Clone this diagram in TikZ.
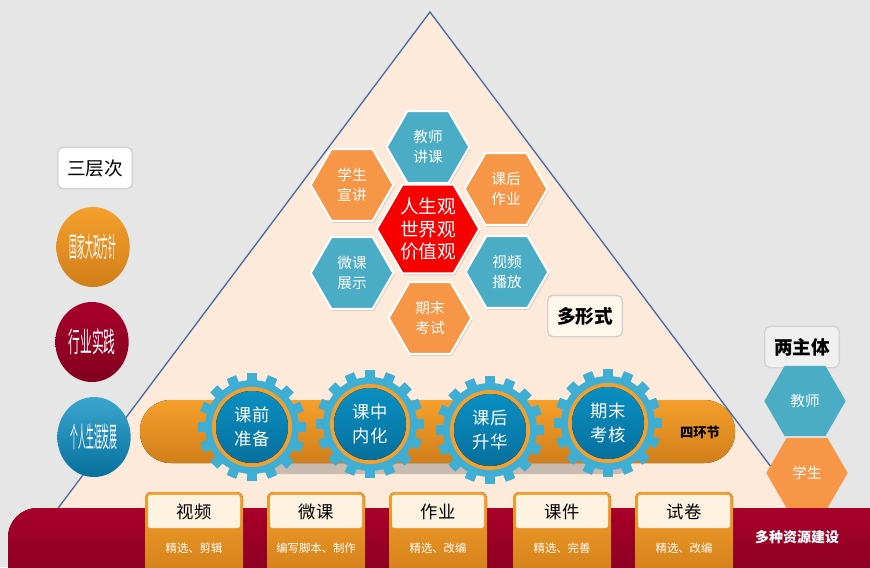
\documentclass[tikz,border=0pt]{standalone}
\usepackage{fontspec}
\setmainfont{Noto Sans CJK SC}
\usetikzlibrary{shapes.geometric,shadows}
\definecolor{bggray}{HTML}{E6E6E6}
\definecolor{peach}{HTML}{FDEADB}
\definecolor{edgeblue}{HTML}{4A6B9E}
\definecolor{hexblue}{HTML}{4BACC6}
\definecolor{hexorange}{HTML}{F79646}
\definecolor{hexred}{HTML}{F60000}
\definecolor{gearblue}{HTML}{3FAED4}
\definecolor{diskblue}{HTML}{0A8FC2}
\definecolor{diskdark}{HTML}{06709E}
\definecolor{barorange}{HTML}{F5A02C}
\definecolor{bardark}{HTML}{D07E1A}
\definecolor{wine}{HTML}{A8002A}
\definecolor{winedark}{HTML}{82001E}
\definecolor{cream}{HTML}{FDF1DF}

\begin{document}
\begin{tikzpicture}[x=0.75pt, y=-0.75pt,
    hexa/.style={regular polygon, regular polygon sides=6, minimum size=62pt, inner sep=0pt,
      draw=white, line width=1.5pt, text=white, align=center,
      font=\fontsize{11}{15}\selectfont, drop shadow={opacity=0.25, shadow xshift=1pt, shadow yshift=-1.5pt}},
    tag/.style={draw=black!18, line width=1pt, rounded corners=4pt, minimum width=56pt,
      minimum height=31pt, inner sep=0pt, font=\fontsize{14}{14}\selectfont},
    level/.style={ellipse, minimum width=55pt, minimum height=60pt, inner sep=0pt, text=white,
      font=\fontsize{21}{21}\selectfont},
    geartext/.style={text=white, align=center, font=\fontsize{13}{18}\selectfont},
    cardtitle/.style={fill=cream, rounded corners=2pt, minimum width=69pt, minimum height=25pt,
      inner sep=0pt, font=\fontsize{13}{13}\selectfont},
    cardsub/.style={text=white, font=\fontsize{8.5}{9}\selectfont}]
    \useasboundingbox (0,0) rectangle (870,567);
    \fill[bggray] (0,0) rectangle (870,567);

    \fill[peach] (430,12) -- (14,567) -- (846,567) -- cycle;
    \draw[edgeblue, line width=1pt] (14,567) -- (430,12) -- (846,567);

    \node[tag, fill=white] (levels) at (95,168) {三层次};
    \node[level, top color=barorange, bottom color=bardark] (c1) at (93,247) {\scalebox{0.28}[1]{国家大政方针}};
    \node[level, top color=wine, bottom color=winedark] (c2) at (92,342) {\scalebox{0.42}[1]{行业实践}};
    \node[level, top color=diskblue!80!white, bottom color=diskdark] (c3) at (94,437) {\scalebox{0.28}[1]{个人生涯发展}};

    \node[hexa, fill=hexblue] (h1) at (428,147) {教师\\讲课};
    \node[hexa, fill=hexorange] (h2) at (352,185) {学生\\宣讲};
    \node[hexa, fill=hexorange] (h3) at (506,189) {课后\\作业};
    \node[hexa, fill=hexblue] (h4) at (352,273) {微课\\展示};
    \node[hexa, fill=hexblue] (h5) at (507,272) {视频\\播放};
    \node[hexa, fill=hexorange] (h6) at (430,318) {期末\\考试};
    \node[hexa, fill=hexred, minimum size=71pt, font=\fontsize{14}{17}\selectfont] (h0) at (428,229) {人生观\\世界观\\价值观};
    \node[tag, fill=cream!60!white, font=\bfseries\fontsize{14}{14}\selectfont] (forms) at (585,316) {多形式};

    \fill[black, opacity=0.2, rounded corners=4pt] (262,460) rectangle (625,474);
    \fill[top color=barorange, bottom color=bardark, rounded corners=23pt] (140,400) rectangle (735,463);
    \node[font=\bfseries\fontsize{10}{10}\selectfont] (links) at (700,432) {四环节};

    \newcommand{\gearnode}[4]{
        \foreach \a in {0,22.5,...,337.5}
            \fill[gearblue, rotate around={\a:(#2,#3)}] (#2-5,#3-54) rectangle (#2+5,#3-44);
        \fill[gearblue] (#2,#3) circle[radius=47];
        \fill[barorange] (#2,#3) circle[radius=40];
        \fill[top color=diskblue, bottom color=diskdark] (#2,#3) circle[radius=36];
        \node[geartext] (#1) at (#2,#3) {#4};
    }

    \gearnode{g1}{252}{427}{课前\\准备};
    \gearnode{g2}{370}{424}{课中\\内化};
    \gearnode{g3}{490}{430}{课后\\升华};
    \gearnode{g4}{608}{423}{期末\\考核};

    \node[tag, fill=black!6, font=\bfseries\fontsize{14}{14}\selectfont] (roles) at (802,347) {两主体};
    \node[regular polygon, regular polygon sides=6, minimum size=61pt, inner sep=0pt, fill=hexblue,
        text=white, font=\fontsize{11}{11}\selectfont] (r1) at (805,401) {教师};
    \node[regular polygon, regular polygon sides=6, minimum size=61pt, inner sep=0pt, fill=hexorange,
        text=white, font=\fontsize{11}{11}\selectfont] (r2) at (807,473) {学生};

    \fill[top color=wine, bottom color=winedark, rounded corners=22pt] (8,508) rectangle (900,600);
    \node[text=white, font=\bfseries\fontsize{10.5}{11}\selectfont] (res) at (797,537) {多种资源建设};

    \newcommand{\rescard}[4]{
        \fill[top color=barorange, bottom color=bardark, rounded corners=5pt] (#2,492) rectangle (#2+98,580);
        \node[cardtitle] (#1) at (#2+49,511.5) {#3};
        \node[cardsub] at (#2+49,548) {#4};
    }

    \rescard{k1}{145}{视频}{精选、剪辑};
    \rescard{k2}{267}{微课}{编写脚本、制作};
    \rescard{k3}{389}{作业}{精选、改编};
    \rescard{k4}{513}{课件}{精选、完善};
    \rescard{k5}{635}{试卷}{精选、改编};
\end{tikzpicture}
\end{document}
